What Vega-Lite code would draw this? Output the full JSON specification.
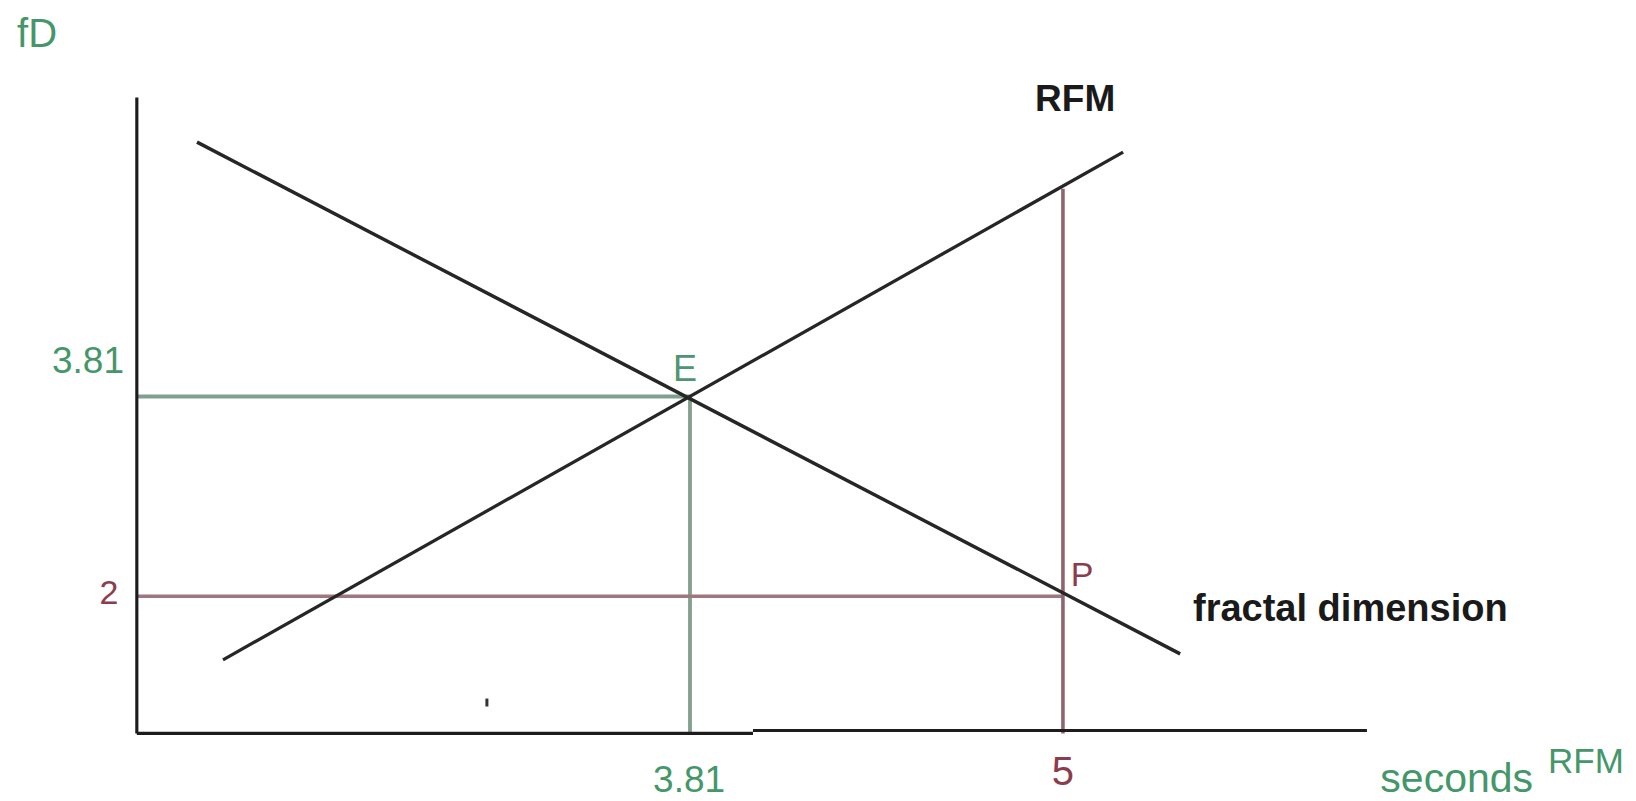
{
  "$schema": "https://vega.github.io/schema/vega-lite/v6.json",
  "width": 1636,
  "height": 801,
  "autosize": {"type": "fit", "contains": "padding"},
  "padding": 0,
  "background": "white",
  "config": {"view": {"stroke": null}},
  "datasets": {
    "segments": [
      {"series": "green_h", "x": 2.045, "y": 3.81, "x2": 3.81, "y2": 3.81},
      {"series": "green_v", "x": 3.81, "y": 3.81, "x2": 3.81, "y2": 0.757},
      {"series": "red_h", "x": 2.045, "y": 2.0, "x2": 5.0, "y2": 2.0},
      {"series": "red_v", "x": 5.0, "y": 5.692, "x2": 5.0, "y2": 0.757},
      {"series": "fractal dimension", "x": 2.237, "y": 6.115, "x2": 5.374, "y2": 1.478},
      {"series": "RFM", "x": 2.32, "y": 1.424, "x2": 5.192, "y2": 6.025},
      {"series": "axis", "x": 2.045, "y": 6.52, "x2": 2.045, "y2": 0.757},
      {"series": "axis", "x": 2.045, "y": 0.757, "x2": 4.011, "y2": 0.757},
      {"series": "axis", "x": 4.011, "y": 0.784, "x2": 5.97, "y2": 0.784},
      {"series": "dot", "x": 3.162, "y": 1.073, "x2": 3.162, "y2": 1.001}
    ],
    "labels": [
      {"role": "fd", "x": 1.663, "y": 6.98, "text": "fD"},
      {"role": "green_center", "x": 1.889, "y": 4.026, "text": "3.81"},
      {"role": "green_center", "x": 3.807, "y": 0.226, "text": "3.81"},
      {"role": "green_e", "x": 3.794, "y": 3.954, "text": "E"},
      {"role": "red_two", "x": 1.956, "y": 1.928, "text": "2"},
      {"role": "red_five", "x": 5.0, "y": 0.289, "text": "5"},
      {"role": "red_p", "x": 5.061, "y": 2.09, "text": "P"},
      {"role": "black_center", "x": 5.039, "y": 6.394, "text": "RFM"},
      {"role": "black_left", "x": 5.415, "y": 1.775, "text": "fractal dimension"},
      {"role": "green_right_big", "x": 6.5, "y": 0.226, "text": "seconds"},
      {"role": "green_left_small", "x": 6.548, "y": 0.397, "text": "RFM"}
    ]
  },
  "layer": [
    {
      "data": {"name": "segments"},
      "mark": {"type": "rule", "strokeCap": "butt"},
      "encoding": {
        "x": {"field": "x", "type": "quantitative", "scale": {"domain": [1.6084, 6.8285], "nice": false, "zero": false}, "axis": null},
        "y": {"field": "y", "type": "quantitative", "scale": {"domain": [0.19, 7.403], "nice": false, "zero": false}, "axis": null},
        "x2": {"field": "x2"},
        "y2": {"field": "y2"},
        "color": {
          "field": "series", "type": "nominal", "legend": null,
          "scale": {
            "domain": ["green_h", "green_v", "red_h", "red_v", "fractal dimension", "RFM", "axis", "dot"],
            "range": ["#819f8f", "#84a190", "#9e767e", "#8f6470", "#262626", "#262626", "#1c1c1c", "#333333"]
          }
        },
        "strokeWidth": {
          "field": "series", "type": "nominal", "legend": null,
          "scale": {
            "domain": ["green_h", "green_v", "red_h", "red_v", "fractal dimension", "RFM", "axis", "dot"],
            "range": [4, 3, 5, 3, 2.4, 2.4, 4, 3]
          }
        }
      }
    },
    {
      "data": {"name": "labels"},
      "transform": [{"filter": "datum.role === 'fd'"}],
      "mark": {"type": "text", "font": "Liberation Sans", "fontSize": 40, "align": "left", "baseline": "alphabetic", "color": "#45976a"},
      "encoding": {
        "x": {"field": "x", "type": "quantitative"},
        "y": {"field": "y", "type": "quantitative"},
        "text": {"field": "text"}
      }
    },
    {
      "data": {"name": "labels"},
      "transform": [{"filter": "datum.role === 'green_center'"}],
      "mark": {"type": "text", "font": "Liberation Sans", "fontSize": 37, "align": "center", "baseline": "alphabetic", "color": "#45976a"},
      "encoding": {
        "x": {"field": "x", "type": "quantitative"},
        "y": {"field": "y", "type": "quantitative"},
        "text": {"field": "text"}
      }
    },
    {
      "data": {"name": "labels"},
      "transform": [{"filter": "datum.role === 'green_e'"}],
      "mark": {"type": "text", "font": "Liberation Sans", "fontSize": 36, "align": "center", "baseline": "alphabetic", "color": "#4f9572"},
      "encoding": {
        "x": {"field": "x", "type": "quantitative"},
        "y": {"field": "y", "type": "quantitative"},
        "text": {"field": "text"}
      }
    },
    {
      "data": {"name": "labels"},
      "transform": [{"filter": "datum.role === 'red_two'"}],
      "mark": {"type": "text", "font": "Liberation Sans", "fontSize": 34, "align": "center", "baseline": "alphabetic", "color": "#8b3d4d"},
      "encoding": {
        "x": {"field": "x", "type": "quantitative"},
        "y": {"field": "y", "type": "quantitative"},
        "text": {"field": "text"}
      }
    },
    {
      "data": {"name": "labels"},
      "transform": [{"filter": "datum.role === 'red_five'"}],
      "mark": {"type": "text", "font": "Liberation Sans", "fontSize": 40, "align": "center", "baseline": "alphabetic", "color": "#8b3d4d"},
      "encoding": {
        "x": {"field": "x", "type": "quantitative"},
        "y": {"field": "y", "type": "quantitative"},
        "text": {"field": "text"}
      }
    },
    {
      "data": {"name": "labels"},
      "transform": [{"filter": "datum.role === 'red_p'"}],
      "mark": {"type": "text", "font": "Liberation Sans", "fontSize": 34, "align": "center", "baseline": "alphabetic", "color": "#8b3d4d"},
      "encoding": {
        "x": {"field": "x", "type": "quantitative"},
        "y": {"field": "y", "type": "quantitative"},
        "text": {"field": "text"}
      }
    },
    {
      "data": {"name": "labels"},
      "transform": [{"filter": "datum.role === 'black_center'"}],
      "mark": {"type": "text", "font": "Liberation Sans", "fontSize": 37, "fontWeight": "bold", "align": "center", "baseline": "alphabetic", "color": "#1a1a1a"},
      "encoding": {
        "x": {"field": "x", "type": "quantitative"},
        "y": {"field": "y", "type": "quantitative"},
        "text": {"field": "text"}
      }
    },
    {
      "data": {"name": "labels"},
      "transform": [{"filter": "datum.role === 'black_left'"}],
      "mark": {"type": "text", "font": "Liberation Sans", "fontSize": 38, "fontWeight": "bold", "align": "left", "baseline": "alphabetic", "color": "#1a1a1a"},
      "encoding": {
        "x": {"field": "x", "type": "quantitative"},
        "y": {"field": "y", "type": "quantitative"},
        "text": {"field": "text"}
      }
    },
    {
      "data": {"name": "labels"},
      "transform": [{"filter": "datum.role === 'green_right_big'"}],
      "mark": {"type": "text", "font": "Liberation Sans", "fontSize": 41, "align": "right", "baseline": "alphabetic", "color": "#45976a"},
      "encoding": {
        "x": {"field": "x", "type": "quantitative"},
        "y": {"field": "y", "type": "quantitative"},
        "text": {"field": "text"}
      }
    },
    {
      "data": {"name": "labels"},
      "transform": [{"filter": "datum.role === 'green_left_small'"}],
      "mark": {"type": "text", "font": "Liberation Sans", "fontSize": 35, "align": "left", "baseline": "alphabetic", "color": "#45976a"},
      "encoding": {
        "x": {"field": "x", "type": "quantitative"},
        "y": {"field": "y", "type": "quantitative"},
        "text": {"field": "text"}
      }
    }
  ]
}
